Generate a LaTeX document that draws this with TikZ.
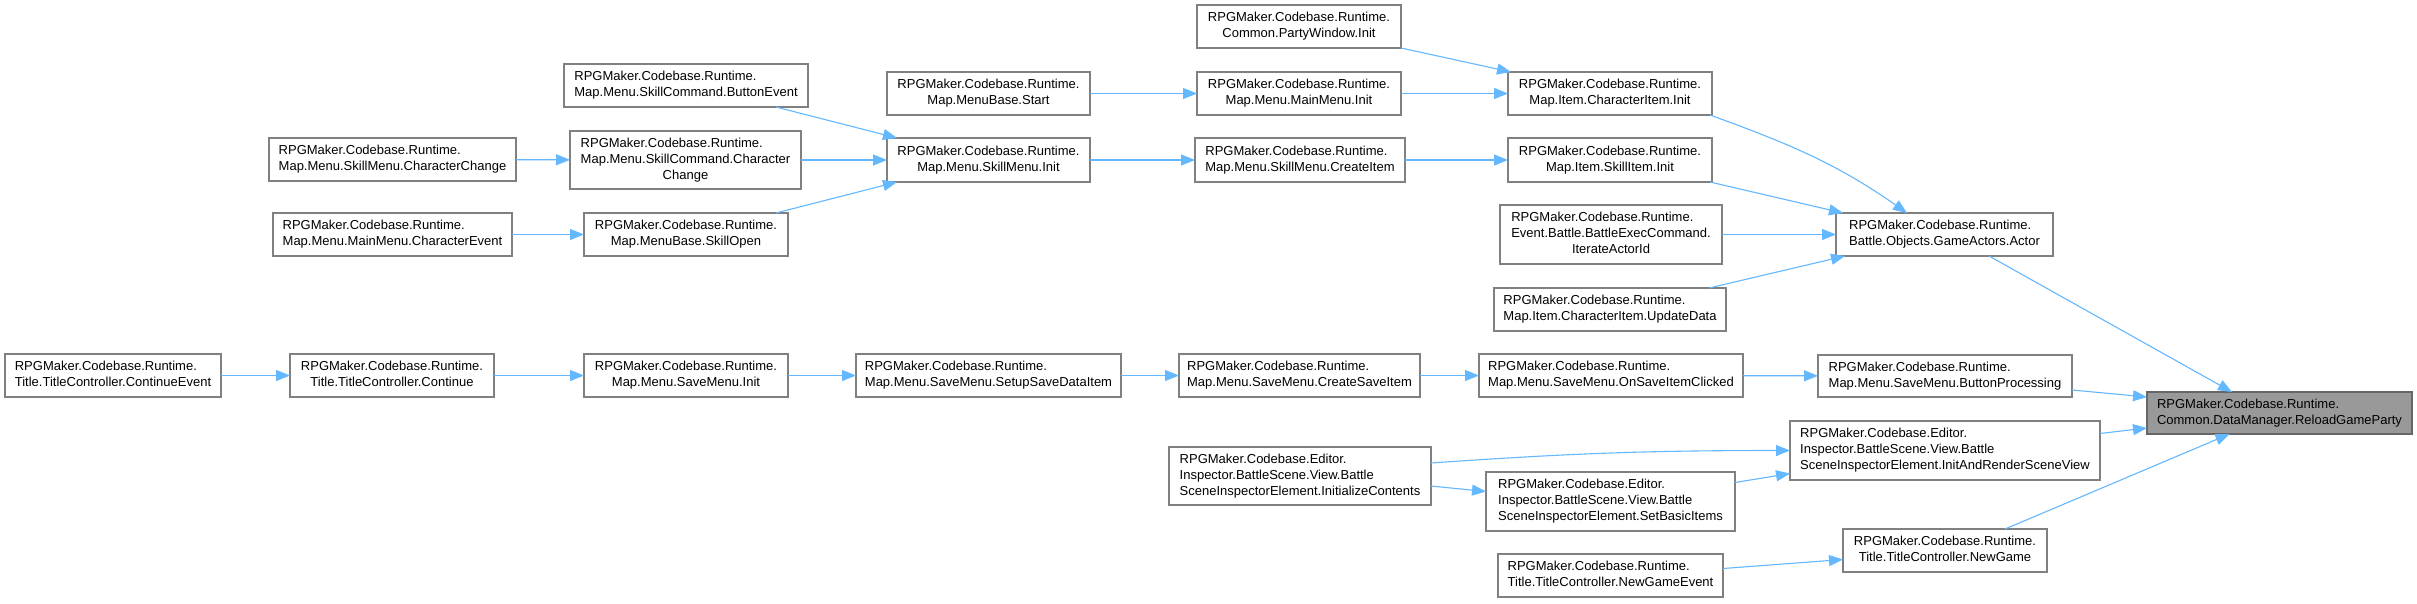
\documentclass[tikz,border=0pt]{standalone}
\usepackage{fontspec}
\setmainfont{Liberation Sans}
\usetikzlibrary{arrows.meta}
\definecolor{edgeblue}{HTML}{63B8FF}
\definecolor{boxgray}{HTML}{808080}
\definecolor{hlfill}{HTML}{999999}
\definecolor{hlborder}{HTML}{666666}
\newcommand{\lbl}[2]{\begin{tabular}{@{}l@{}}#1\\\multicolumn{1}{@{}c@{}}{#2}\end{tabular}}
\newcommand{\dbox}[7]{\node[#1, minimum width={(#5-#3)*1pt}, minimum height={(#6-#4)*1pt}] (#2) at ({(#3+#5)/2},{(#4+#6)/2}) {#7};}
\tikzset{
  fnbox/.style={draw=boxgray, line width=1.4pt, fill=white, inner sep=0pt, outer sep=0pt,
    font=\fontsize{13pt}{16pt}\selectfont, text=black},
  hlbox/.style={fnbox, draw=hlborder, fill=hlfill},
  ce/.style={draw=edgeblue, line width=1.1pt, -{Triangle[length=14pt,width=11pt]}}
}
\begin{document}
\begin{tikzpicture}[x=1pt,y=-1pt]
\fill[white] (0,0) rectangle (2417,603);
\useasboundingbox (0,0) rectangle (2417,603);
% column 1
\dbox{fnbox}{CE}{5}{354}{221}{397}{\lbl{RPGMaker.Codebase.Runtime.}{Title.TitleController.ContinueEvent}}
% column 2
\dbox{fnbox}{SCC}{269}{138}{516}{181}{\lbl{RPGMaker.Codebase.Runtime.}{Map.Menu.SkillMenu.CharacterChange}}
\dbox{fnbox}{MCE}{273}{213}{512}{256}{\lbl{RPGMaker.Codebase.Runtime.}{Map.Menu.MainMenu.CharacterEvent}}
\dbox{fnbox}{CO}{290}{354}{494}{397}{\lbl{RPGMaker.Codebase.Runtime.}{Title.TitleController.Continue}}
% column 3
\dbox{fnbox}{BE}{564}{64}{808}{107}{\lbl{RPGMaker.Codebase.Runtime.}{Map.Menu.SkillCommand.ButtonEvent}}
\dbox{fnbox}{SKC}{570}{131}{801}{189}{\lbl{RPGMaker.Codebase.Runtime.\\Map.Menu.SkillCommand.Character}{Change}}
\dbox{fnbox}{SO}{584}{213}{788}{256}{\lbl{RPGMaker.Codebase.Runtime.}{Map.MenuBase.SkillOpen}}
\dbox{fnbox}{SVI}{584}{354}{788}{397}{\lbl{RPGMaker.Codebase.Runtime.}{Map.Menu.SaveMenu.Init}}
% column 4
\dbox{fnbox}{MS}{887}{72}{1090}{115}{\lbl{RPGMaker.Codebase.Runtime.}{Map.MenuBase.Start}}
\dbox{fnbox}{SMI}{887}{138}{1090}{182}{\lbl{RPGMaker.Codebase.Runtime.}{Map.Menu.SkillMenu.Init}}
\dbox{fnbox}{SSD}{856}{354}{1121}{397}{\lbl{RPGMaker.Codebase.Runtime.}{Map.Menu.SaveMenu.SetupSaveDataItem}}
% column 5
\dbox{fnbox}{PW}{1197}{5}{1401}{48}{\lbl{RPGMaker.Codebase.Runtime.}{Common.PartyWindow.Init}}
\dbox{fnbox}{MI}{1197}{72}{1401}{115}{\lbl{RPGMaker.Codebase.Runtime.}{Map.Menu.MainMenu.Init}}
\dbox{fnbox}{SCI}{1195}{138}{1405}{182}{\lbl{RPGMaker.Codebase.Runtime.}{Map.Menu.SkillMenu.CreateItem}}
\dbox{fnbox}{CSI}{1179}{354}{1420}{397}{\lbl{RPGMaker.Codebase.Runtime.}{Map.Menu.SaveMenu.CreateSaveItem}}
\dbox{fnbox}{IC}{1169}{447}{1431}{505}{\lbl{RPGMaker.Codebase.Editor.\\Inspector.BattleScene.View.Battle}{SceneInspectorElement.InitializeContents}}
% column 6
\dbox{fnbox}{CI}{1508}{72}{1712}{115}{\lbl{RPGMaker.Codebase.Runtime.}{Map.Item.CharacterItem.Init}}
\dbox{fnbox}{SII}{1508}{138}{1712}{182}{\lbl{RPGMaker.Codebase.Runtime.}{Map.Item.SkillItem.Init}}
\dbox{fnbox}{IAI}{1500}{205}{1722}{264}{\lbl{RPGMaker.Codebase.Runtime.\\Event.Battle.BattleExecCommand.}{IterateActorId}}
\dbox{fnbox}{UD}{1494}{288}{1726}{331}{\lbl{RPGMaker.Codebase.Runtime.}{Map.Item.CharacterItem.UpdateData}}
\dbox{fnbox}{OSC}{1479}{354}{1743}{397}{\lbl{RPGMaker.Codebase.Runtime.}{Map.Menu.SaveMenu.OnSaveItemClicked}}
\dbox{fnbox}{SBI}{1486}{472}{1735}{531}{\lbl{RPGMaker.Codebase.Editor.\\Inspector.BattleScene.View.Battle}{SceneInspectorElement.SetBasicItems}}
\dbox{fnbox}{NGE}{1498}{554}{1723}{597}{\lbl{RPGMaker.Codebase.Runtime.}{Title.TitleController.NewGameEvent}}
% column 7
\dbox{fnbox}{ACT}{1836}{213}{2053}{256}{\lbl{RPGMaker.Codebase.Runtime.}{Battle.Objects.GameActors.Actor}}
\dbox{fnbox}{BP}{1818}{355}{2072}{397}{\lbl{RPGMaker.Codebase.Runtime.}{Map.Menu.SaveMenu.ButtonProcessing}}
\dbox{fnbox}{IAR}{1790}{421}{2100}{480}{\lbl{RPGMaker.Codebase.Editor.\\Inspector.BattleScene.View.Battle}{SceneInspectorElement.InitAndRenderSceneView}}
\dbox{fnbox}{NG}{1843}{529}{2047}{572}{\lbl{RPGMaker.Codebase.Runtime.}{Title.TitleController.NewGame}}
% target
\dbox{hlbox}{RGP}{2147}{392}{2412}{434}{\lbl{RPGMaker.Codebase.Runtime.}{Common.DataManager.ReloadGameParty}}

% edges
\draw[ce] (PW.south east) -- ([xshift=3pt]CI.north west);
\draw[ce] (MS) -- (MI);
\draw[ce] (MI) -- (CI);
\draw[ce] (SMI) -- (SCI);
\draw[ce] (SCI) -- (SII);
\draw[ce] (SCC) -- (SKC);
\draw[ce] (SKC) -- (SMI);
\draw[ce] (MCE) -- (SO);
\draw[ce] ([xshift=-32pt]BE.south east) -- ([xshift=10pt]SMI.north west);
\draw[ce] ([xshift=-12pt]SO.north east) -- ([xshift=10pt]SMI.south west);
\draw[ce] ([xshift=-2pt]CI.south east) to[out=-20,in=145] ([xshift=71pt]ACT.north west);
\draw[ce] ([xshift=-2pt]SII.south east) -- ([xshift=7pt]ACT.north west);
\draw[ce] (IAI) -- (ACT);
\draw[ce] ([xshift=-17pt]UD.north east) -- ([xshift=9pt]ACT.south west);
\draw[ce] (CE) -- (CO);
\draw[ce] (CO) -- (SVI);
\draw[ce] (SVI) -- (SSD);
\draw[ce] (SSD) -- (CSI);
\draw[ce] (CSI) -- (OSC);
\draw[ce] (OSC) -- (BP);
\draw[ce] ([xshift=-64pt]ACT.south east) -- ([xshift=85pt]RGP.north west);
\draw[ce] ([yshift=-14pt]BP.east) -- ([yshift=16pt]RGP.west);
\draw[ce] ([yshift=17pt]IAR.east) -- ([yshift=-15pt]RGP.west);
\draw[ce] ([xshift=60pt]NG.north) -- ([xshift=-50pt]RGP.south);
\draw[ce] ([yshift=13pt]IC.east) to[out=4,in=180] (IAR.west);
\draw[ce] ([yshift=-10pt]IC.east) -- ([yshift=10pt]SBI.west);
\draw[ce] ([yshift=19pt]SBI.east) -- ([yshift=-23pt]IAR.west);
\draw[ce] ([yshift=7pt]NGE.east) -- ([yshift=-9pt]NG.west);
\end{tikzpicture}
\end{document}
